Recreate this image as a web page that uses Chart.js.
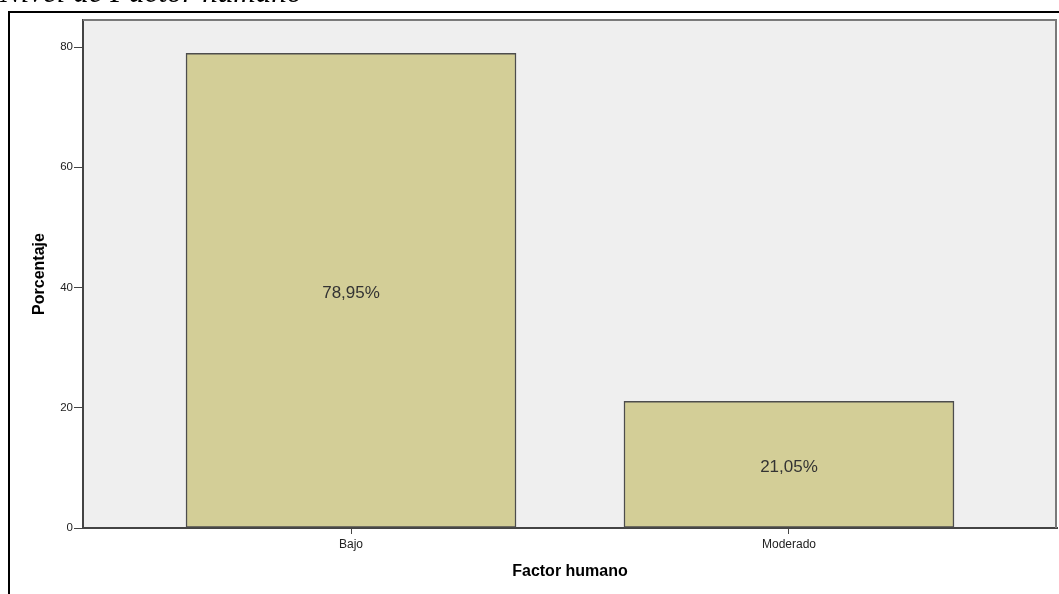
<!DOCTYPE html>
<html>
<head>
<meta charset="utf-8">
<script src="https://cdn.jsdelivr.net/npm/chart.js@4/dist/chart.umd.min.js"></script>
<style>
  html, body { margin: 0; padding: 0; background: #ffffff; }
  #wrap { width: 1059px; height: 594px; position: relative; }
</style>
</head>
<body>
<div id="wrap"><canvas id="c" width="1059" height="594"></canvas></div>
<script>
const categories = ['Bajo', 'Moderado'];
const percentages = [78.95, 21.05];
const yTicks = [0, 20, 40, 60, 80];
const chartTitle = 'Nivel de Factor humano';
const xTitle = 'Factor humano';
const yTitle = 'Porcentaje';

const points = percentages.map((v, i) => ({ x: i, y: v }));

const decorPlugin = {
  id: 'decor',
  beforeDraw(chart) {
    const { ctx, chartArea: a } = chart;
    ctx.save();
    ctx.fillStyle = '#EFEFEF';
    ctx.fillRect(a.left, a.top, a.right - a.left, a.bottom - a.top);
    // outer frame
    ctx.strokeStyle = '#000000';
    ctx.lineWidth = 2;
    ctx.beginPath();
    ctx.moveTo(9, 600);
    ctx.lineTo(9, 12);
    ctx.lineTo(1070, 12);
    ctx.stroke();
    // cropped caption
    ctx.fillStyle = '#000000';
    ctx.font = 'italic 31px "Liberation Serif", "Times New Roman", serif';
    ctx.textAlign = 'left';
    ctx.textBaseline = 'alphabetic';
    ctx.fillText(chartTitle, 0, 2);
    ctx.restore();
  },
  afterDatasetsDraw(chart) {
    const { ctx, chartArea: a } = chart;
    ctx.save();
    // plot frame top/right
    ctx.strokeStyle = '#7a7a7a';
    ctx.lineWidth = 2;
    ctx.beginPath();
    ctx.moveTo(a.left, a.top);
    ctx.lineTo(a.right - 1, a.top);
    ctx.lineTo(a.right - 1, a.bottom);
    ctx.stroke();
    // value labels
    const meta = chart.getDatasetMeta(0);
    ctx.fillStyle = '#333333';
    ctx.font = '17px "Liberation Sans", Arial, sans-serif';
    ctx.textAlign = 'center';
    ctx.textBaseline = 'middle';
    meta.data.forEach((bar, i) => {
      const v = chart.data.datasets[0].data[i].y;
      const txt = v.toFixed(2).replace('.', ',') + '%';
      ctx.fillText(txt, bar.x, (bar.y + bar.base) / 2 + 3);
    });
    ctx.restore();
  }
};

new Chart(document.getElementById('c'), {
  type: 'bar',
  data: {
    datasets: [{
      data: points,
      backgroundColor: '#D3CE97',
      borderColor: '#4d4d4d',
      borderWidth: 1.5,
      borderSkipped: false,
      barThickness: 330
    }]
  },
  options: {
    responsive: false,
    animation: false,
    devicePixelRatio: 1,
    layout: { padding: { left: 0, top: 20, right: 2, bottom: 0 } },
    plugins: { legend: { display: false }, tooltip: { enabled: false }, title: { display: false } },
    scales: {
      x: {
        type: 'linear',
        offset: false,
        min: -0.612,
        max: 1.612,
        afterBuildTicks(scale) { scale.ticks = categories.map((c, i) => ({ value: i })); },
        afterFit(scale) { scale.height = 66; },
        grid: { offset: false, drawOnChartArea: false, drawTicks: true, tickLength: 6, color: '#444444' },
        border: { display: true, color: '#444444', width: 2 },
        ticks: {
          padding: 3,
          color: '#222222',
          font: { family: '"Liberation Sans", Arial, sans-serif', size: 12 },
          maxRotation: 0,
          callback: (v) => categories[v] ?? ''
        },
        title: {
          display: true,
          text: xTitle,
          color: '#000000',
          font: { family: '"Liberation Sans", Arial, sans-serif', size: 16, weight: 'bold' },
          padding: { top: 0, bottom: 13 }
        }
      },
      y: {
        min: 0,
        max: 84.5,
        afterBuildTicks(scale) { scale.ticks = yTicks.map(v => ({ value: v })); },
        afterFit(scale) { scale.width = 83; },
        grid: { drawOnChartArea: false, drawTicks: true, tickLength: 9, color: '#444444' },
        border: { display: true, color: '#444444', width: 2 },
        ticks: {
          padding: 1,
          color: '#222222',
          font: { family: '"Liberation Sans", Arial, sans-serif', size: 11.5 }
        },
        title: {
          display: true,
          text: yTitle,
          color: '#000000',
          font: { family: '"Liberation Sans", Arial, sans-serif', size: 16, weight: 'bold' },
          padding: { top: 30, bottom: 0 }
        }
      }
    }
  },
  plugins: [decorPlugin]
});
</script>
</body>
</html>
